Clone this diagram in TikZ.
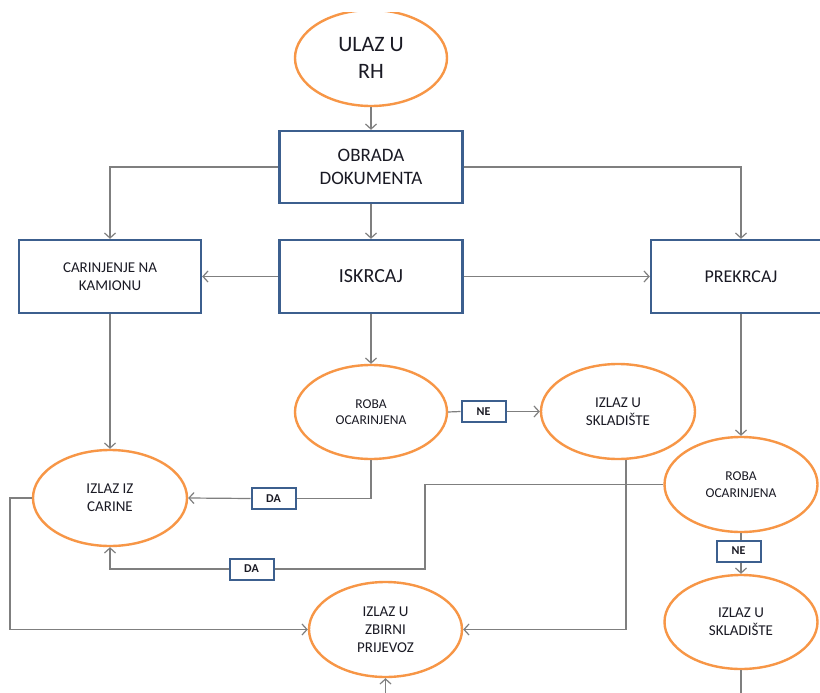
\documentclass[tikz,border=0pt]{standalone}
\usepackage{fontspec}
\setmainfont{Carlito}
\usetikzlibrary{arrows.meta,shapes.geometric}
\definecolor{boxblue}{HTML}{3C5F8E}
\definecolor{ellorange}{HTML}{F79646}
\definecolor{linegray}{HTML}{7F7F7F}
\definecolor{txt}{HTML}{1A1A24}
\tikzset{
  fs/.style 2 args={font=\fontsize{#1}{#2}\selectfont},
  procbox/.style={draw=boxblue, line width=2.4pt, fill=white, text=txt, align=center, inner sep=0pt},
  oval/.style={ellipse, draw=ellorange, line width=2.4pt, fill=white, text=txt, align=center, inner sep=0pt},
  tag/.style={draw=boxblue, line width=2pt, fill=white, text=txt, inner sep=0pt,
    minimum width=44pt, minimum height=21pt, font=\fontsize{12}{14}\selectfont\bfseries},
  conn/.style={draw=linegray, line width=1.2pt},
  arr/.style={conn, -{Straight Barb[length=5pt,width=11pt]}},
}
\begin{document}
\begin{tikzpicture}[x=1pt,y=-1pt]
\useasboundingbox (0,0) rectangle (820,693);
\clip (0,0) rectangle (820,693);
\fill[white] (0,0) rectangle (820,693);
% nodes
\begin{scope}
\clip (0,13) rectangle (820,693);
\node[oval, minimum width=152pt, minimum height=96pt, fs={22}{27}] (ulaz) at (371,58) {ULAZ U\\RH};
\end{scope}
\node[procbox, minimum width=183pt, minimum height=72pt, fs={19}{23}] (obrada) at (371,167) {OBRADA\\DOKUMENTA};
\node[procbox, minimum width=182pt, minimum height=73pt, fs={15}{18}] (carin) at (110,276.5) {CARINJENJE NA\\KAMIONU};
\node[procbox, minimum width=183pt, minimum height=73pt, fs={20}{24}] (iskrcaj) at (371,276.5) {ISKRCAJ};
\node[procbox, minimum width=180pt, minimum height=73pt, fs={18}{22}] (prekrcaj) at (741,276.5) {PREKRCAJ};
\node[oval, minimum width=152pt, minimum height=94pt, fs={13.5}{16.5}] (roba1) at (371,412) {ROBA\\OCARINJENA};
\node[oval, minimum width=154pt, minimum height=95pt, fs={15}{18}] (skl1) at (618,411.5) {IZLAZ U\\SKLADIŠTE};
\node[oval, minimum width=154pt, minimum height=96pt, fs={15}{18}] (izlaz) at (110,498) {IZLAZ IZ\\CARINE};
\node[oval, minimum width=153pt, minimum height=95pt, fs={15}{18}] (zbirni) at (385.5,629.5) {IZLAZ U\\ZBIRNI\\PRIJEVOZ};
\node[oval, minimum width=153pt, minimum height=95pt, fs={13.5}{16.5}] (roba2) at (741,484.5) {ROBA\\OCARINJENA};
\node[oval, minimum width=153pt, minimum height=94pt, fs={15}{18}] (skl2) at (741,622) {IZLAZ U\\SKLADIŠTE};
\node[tag] (ne1) at (483.5,411.5) {NE};
\node[tag] (da1) at (273.5,498.5) {DA};
\node[tag] (da2) at (251.5,569) {DA};
\node[tag] (ne2) at (738.5,551) {NE};
\coordinate (lw) at (10,498);
\coordinate (r2t) at (425,484.5);
\coordinate (botz) at (385.5,700);
\coordinate (bots) at (741,700);
% connectors
\draw[arr] (ulaz.south) -- (obrada.north);
\draw[arr] (obrada.west) -| (carin.north);
\draw[arr] (obrada.south) -- (iskrcaj.north);
\draw[arr] (obrada.east) -| (prekrcaj.north);
\draw[arr] (iskrcaj.west) -- (carin.east);
\draw[arr] (iskrcaj.east) -- (prekrcaj.west);
\draw[arr] (iskrcaj.south) -- (roba1.north);
\draw[conn] (roba1.east) -- (ne1.west);
\draw[arr] (ne1.east) -- (skl1.west);
\draw[conn] (roba1.south) |- (da1.east);
\draw[arr] (da1.west) -- (izlaz.east);
\draw[arr] (carin.south) -- (izlaz.north);
\draw[arr] (izlaz.west) -- (lw) |- (zbirni.west);
\draw[arr] ([xshift=8pt]skl1.south) |- (zbirni.east);
\draw[conn] (roba2.west) -- (r2t) |- (da2.east);
\draw[arr] (da2.west) -| (izlaz.south);
\draw[arr] (prekrcaj.south) -- (roba2.north);
\draw[conn] (roba2.south) -- (ne2.north -| roba2.south);
\draw[arr] (ne2.south -| skl2.north) -- (skl2.north);
\draw[conn] (skl2.south) -- (bots);
\draw[arr] (botz) -- (zbirni.south);
\end{tikzpicture}
\end{document}
